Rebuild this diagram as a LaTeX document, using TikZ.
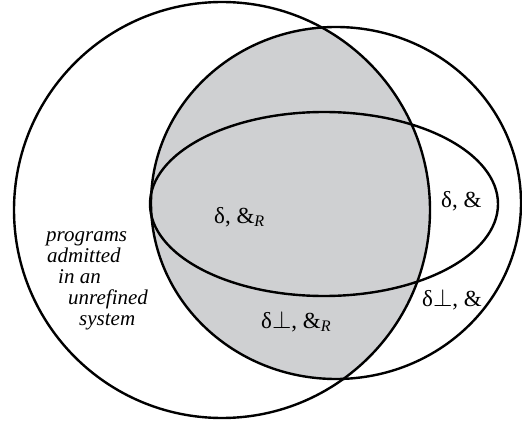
\documentclass[tikz,border=0pt]{standalone}
\usepackage{fontspec}
\setmainfont{Liberation Serif}
\definecolor{regiongray}{RGB}{207,208,210}
\begin{document}
\begin{tikzpicture}[x=1pt,y=-1pt,
		lbl/.style={anchor=base west,inner sep=0pt,font=\fontsize{23}{27}\selectfont},
		note/.style={anchor=base west,inner sep=0pt,font=\fontsize{21}{25}\selectfont\itshape}]
				\useasboundingbox (0,0) rectangle (522,425);
				\begin{scope}
					\clip (222,210) circle (208);
					\fill[regiongray] (336,203) ellipse (185 and 176);
				\end{scope}
				\draw[line width=2.4pt] (222,210) circle (208);
				\draw[line width=2.4pt] (336,203) ellipse (185 and 176);
				\draw[line width=2.4pt] (324,204) ellipse (174 and 92);
				\node[note] (prog) at (46,241) {programs};
				\node[note] (adm) at (47,262) {admitted};
				\node[note] (inan) at (58,283) {in an};
				\node[note] (unref) at (68,304) {unrefined};
				\node[note] (sys) at (79,325) {system};
				\node[lbl] (dR) at (214,223) {δ, \&\textsubscript{\textit{R}}};
				\node[lbl] (d) at (441,207) {δ, \&};
				\node[lbl] (dpR) at (261,328) {δ$\perp$, \&\textsubscript{\textit{R}}};
				\node[lbl] (dp) at (422,306) {δ$\perp$, \&};
			\end{tikzpicture}
\end{document}
